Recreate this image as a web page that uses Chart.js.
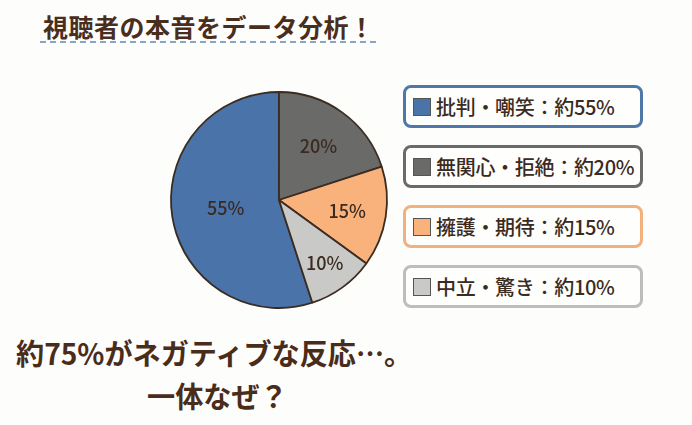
<!DOCTYPE html>
<html lang="ja">
<head>
<meta charset="utf-8">
<script src="https://cdn.jsdelivr.net/npm/chart.js@4.4.1/dist/chart.umd.min.js"></script>
<style>
    html, body { margin: 0; padding: 0; background: #fdfdfb; }
    #stage {
        position: relative; width: 692px; height: 425px; overflow: hidden;
        font-family: "Noto Sans CJK JP", "Noto Sans", sans-serif; color: #4a2e1d;
    }
    #title {
        position: absolute; left: 43px; top: 10px; margin: 0;
        font-size: 25px; font-weight: 700; letter-spacing: 0.5px; line-height: 32px;
    }
    #underline {
        position: absolute; left: 40px; top: 41px; width: 336px; height: 0;
        border-top: 2px dashed #86a6c4;
    }
    #pieWrap { position: absolute; left: 164px; top: 85px; width: 230px; height: 230px; }
    #legend { position: absolute; left: 403px; top: 85px; }
    .item {
        position: absolute; left: 0; width: 234px; height: 37px;
        border: 3px solid; border-radius: 8px; background: #fefefd;
        display: flex; align-items: center; font-size: 20px; font-weight: 500; color: #3b2a20;
        white-space: nowrap; letter-spacing: -0.3px;
    }
    .swatch { width: 16px; height: 16px; margin: 0 5px 0 7px; border: 1px solid #555; flex: none; }
    .headline {
        position: absolute; margin: 0; font-size: 29px; font-weight: 700;
        line-height: 42px; color: #4a2c1a; white-space: nowrap;
        transform: scaleX(0.97); transform-origin: left center;
    }
</style>
</head>
<body>
<div id="stage">
    <h1 id="title">視聴者の本音をデータ分析！</h1>
    <div id="underline"></div>
    <div id="pieWrap"><canvas id="pieChart" width="230" height="230"></canvas></div>
    <div id="legend"></div>
    <p class="headline" style="left:16px; top:331px;">約75%がネガティブな反応…。</p>
    <p class="headline" style="left:147px; top:374px;">一体なぜ？</p>
</div>
<script>
// Reaction categories and their share (%)
const categories = ['批判・嘲笑', '無関心・拒絶', '擁護・期待', '中立・驚き'];
const shares = [55, 20, 15, 10];
const sliceColors = ['#4a74a9', '#6a6a69', '#f9b27c', '#c9c9c8'];
const boxColors = ['#4f77a8', '#6a6a6a', '#f1b07c', '#bdbdbd'];

// How far out (fraction of radius) each percentage label sits
const labelRadius = [0.5, 0.62, 0.64, 0.72];

/**
 * Draw the percentage text inside each slice
 */
const sliceLabels = {
    id: 'sliceLabels',
    afterDatasetsDraw(chart) {
        const ctx = chart.ctx;
        const meta = chart.getDatasetMeta(0);
        ctx.save();
        ctx.font = '500 18px "Noto Sans CJK JP", sans-serif';
        ctx.fillStyle = '#3a2a20';
        ctx.textAlign = 'center';
        ctx.textBaseline = 'middle';
        meta.data.forEach((arc, i) => {
            const mid = (arc.startAngle + arc.endAngle) / 2;
            const r = arc.outerRadius * labelRadius[i];
            ctx.fillText(shares[i] + '%', arc.x + Math.cos(mid) * r, arc.y + Math.sin(mid) * r);
        });
        ctx.restore();
    }
};

function buildLegend() {
    const legend = document.getElementById('legend');
    categories.forEach((name, i) => {
        const item = document.createElement('div');
        item.className = 'item';
        item.style.top = (i * 60) + 'px';
        item.style.borderColor = boxColors[i];
        const sw = document.createElement('span');
        sw.className = 'swatch';
        sw.style.background = sliceColors[i];
        item.appendChild(sw);
        item.appendChild(document.createTextNode(name + '：約' + shares[i] + '%'));
        legend.appendChild(item);
    });
}

function initializePieChart() {
    const ctx = document.getElementById('pieChart').getContext('2d');
    new Chart(ctx, {
        type: 'pie',
        data: {
            labels: categories,
            datasets: [{
                data: shares,
                backgroundColor: sliceColors,
                borderColor: '#3b2c22',
                borderWidth: 1.8
            }]
        },
        options: {
            responsive: false,
            animation: false,
            rotation: 162,
            radius: 108,
            plugins: {
                legend: { display: false },
                tooltip: { enabled: false }
            }
        },
        plugins: [sliceLabels]
    });
}

buildLegend();
initializePieChart();
</script>
</body>
</html>
